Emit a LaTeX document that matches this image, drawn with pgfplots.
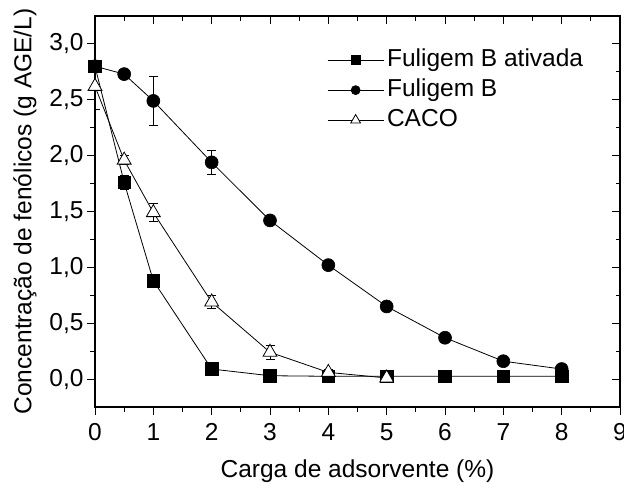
\documentclass[border=0pt]{standalone}
\usepackage{pgfplots}
\pgfplotsset{compat=1.18}
\usepackage{fontspec}
\setmainfont{Liberation Sans}

% Fenolic concentration vs adsorbent load
\pgfplotstableread{
x    y     e
0    2.80  0
0.5  1.76  0.06
1    0.88  0
2    0.09  0
3    0.03  0
4    0.025 0
5    0.025 0
6    0.025 0
7    0.025 0
8    0.025 0
}\ativada

\pgfplotstableread{
x    y     e
0    2.80  0
0.5  2.73  0
1    2.49  0.22
2    1.94  0.11
3    1.42  0
4    1.02  0
5    0.65  0
6    0.37  0
7    0.16  0
8    0.09  0
}\fuligem

\pgfplotstableread{
x    y     e
0    2.62  0.21
0.5  1.96  0.04
1    1.49  0.08
2    0.69  0.06
3    0.24  0.06
4    0.06  0.03
5    0.01  0
}\caco

\newcommand\bigfont{\fontsize{24.5}{29}\selectfont}

\begin{document}
\begin{tikzpicture}[font=\bigfont]
\pgfplotsset{
  frame/.style={
    scale only axis, width=525pt, height=391pt,
    xmin=0, xmax=9, ymin=-0.25, ymax=3.25,
    xtick={0,1,...,9}, ytick={0,0.5,...,3},
    minor x tick num=1, minor y tick num=1,
    axis line style={line width=1.3pt},
    major tick length=8pt, minor tick length=4.5pt,
    every tick/.style={black, line width=1pt},
    tick label style={font=\bigfont},
    label style={font=\bigfont},
  },
}
\begin{axis}[frame, name=ax,
  xtick pos=lower, ytick pos=left, tick align=outside,
  yticklabel style={/pgf/number format/.cd, use comma, fixed, fixed zerofill, precision=1},
  /pgf/number format/assume math mode=true,
  xticklabel style={yshift=-5pt},
  xlabel={Carga de adsorvente (\%)},
  ylabel={Concentração de fenólicos (g AGE/L)},
  xlabel style={yshift=-12pt},
  ylabel style={yshift=6pt},
  legend style={at={(rel axis cs:0.442,0.926)}, anchor=north west,
    draw=none, fill=none, row sep=0pt, inner sep=0pt,
    font=\bigfont,
    nodes={inner sep=3pt, text height=18pt, text depth=6pt}},
  legend cell align=left,
  legend image code/.code={
    \draw[mark repeat=2, mark phase=2, #1, every mark/.append style={scale=0.7}]
      plot coordinates {(0pt,0pt) (28pt,0pt) (56pt,0pt)};
  },
]
% error bars only
\addplot[forget plot, black, line width=0.8pt, only marks, mark=none,
  error bars/.cd, y dir=both, y explicit, error mark options={rotate=90, mark size=4.5pt, line width=0.8pt}]
  table[x=x, y=y, y error=e] {\ativada};
\addplot[forget plot, black, line width=0.8pt, only marks, mark=none,
  error bars/.cd, y dir=both, y explicit, error mark options={rotate=90, mark size=4.5pt, line width=0.8pt}]
  table[x=x, y=y, y error=e] {\fuligem};
\addplot[forget plot, black, line width=0.8pt, only marks, mark=none,
  error bars/.cd, y dir=both, y explicit, error mark options={rotate=90, mark size=4.5pt, line width=0.8pt}]
  table[x=x, y=y, y error=e] {\caco};

\addplot[black, line width=0.8pt, mark=square*, mark size=6.3pt,
  mark options={fill=black, line width=0.6pt}] table[x=x, y=y] {\ativada};
\addlegendentry{Fuligem B ativada}
\addplot[black, line width=0.8pt, mark=*, mark size=6.5pt,
  mark options={fill=black, line width=0.6pt}] table[x=x, y=y] {\fuligem};
\addlegendentry{Fuligem B}
\addplot[black, line width=0.8pt, mark=triangle*, mark size=8pt,
  mark options={fill=white, line width=0.8pt}] table[x=x, y=y] {\caco};
\addlegendentry{CACO}
\end{axis}
% mirrored ticks on top and right, pointing inward
\begin{axis}[frame, xtick pos=upper, ytick pos=right, tick align=inside,
  xticklabels={}, yticklabels={}, axis line style={draw=none}]
\end{axis}
\pgfresetboundingbox
\useasboundingbox ([xshift=-95pt, yshift=-76pt]ax.south west)
  rectangle ([xshift=4pt, yshift=16pt]ax.north east);
\end{tikzpicture}
\end{document}
